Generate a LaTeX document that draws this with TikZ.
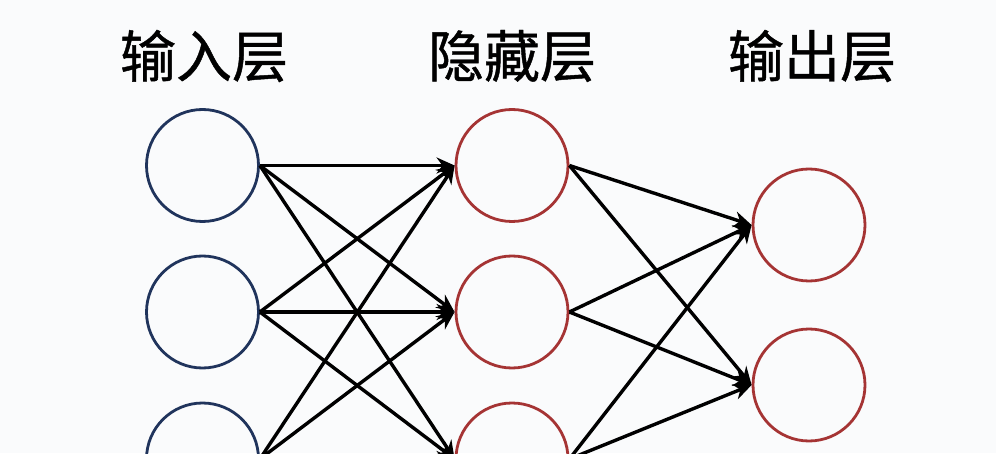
\documentclass[tikz,border=0pt]{standalone}
\usepackage{fontspec}
\newfontfamily\cjk[FakeBold=0.8]{Noto Sans CJK SC}
\usepackage[svgnames, dvipsnames]{xcolor}
\usetikzlibrary{calc, arrows.meta}

\definecolor{inblue}{RGB}{32,52,92}
\definecolor{hidred}{RGB}{165,52,52}
\definecolor{paper}{RGB}{250,251,252}

\tikzset{
  neuron/.style={circle, draw, line width=2.8pt, minimum size=112pt, inner sep=0pt},
  link/.style={line width=3.4pt, -{Stealth[length=18pt, width=16pt]}},
  title/.style={font=\cjk\fontsize{56}{60}\selectfont}
}

\begin{document}
\begin{tikzpicture}[x=1pt, y=1pt]
\useasboundingbox (0,0) rectangle (996,453);
\clip (0,0) rectangle (996,453);
\fill[paper] (0,0) rectangle (996,453);

\node[title] (tin) at (204,397) {输入层};
\node[title] (thid) at (512,397) {隐藏层};
\node[title] (tout) at (812,397) {输出层};

\foreach \i/\y in {1/287.5, 2/141, 3/-6} {
  \node[neuron, inblue] (in\i) at (202.5,\y) {};
  \node[neuron, hidred] (hid\i) at (512,\y) {};
}
\node[neuron, hidred] (out1) at (809,228) {};
\node[neuron, hidred] (out2) at (809,68) {};

% input -> hidden
\foreach \i in {1,2,3}
  \foreach \j in {1,2,3}
    \draw[link] (in\i.east) -- (hid\j.west);

% hidden -> output
\foreach \i in {1,2,3}
  \foreach \j in {1,2}
    \draw[link] (hid\i.east) -- (out\j.west);
\end{tikzpicture}
\end{document}
